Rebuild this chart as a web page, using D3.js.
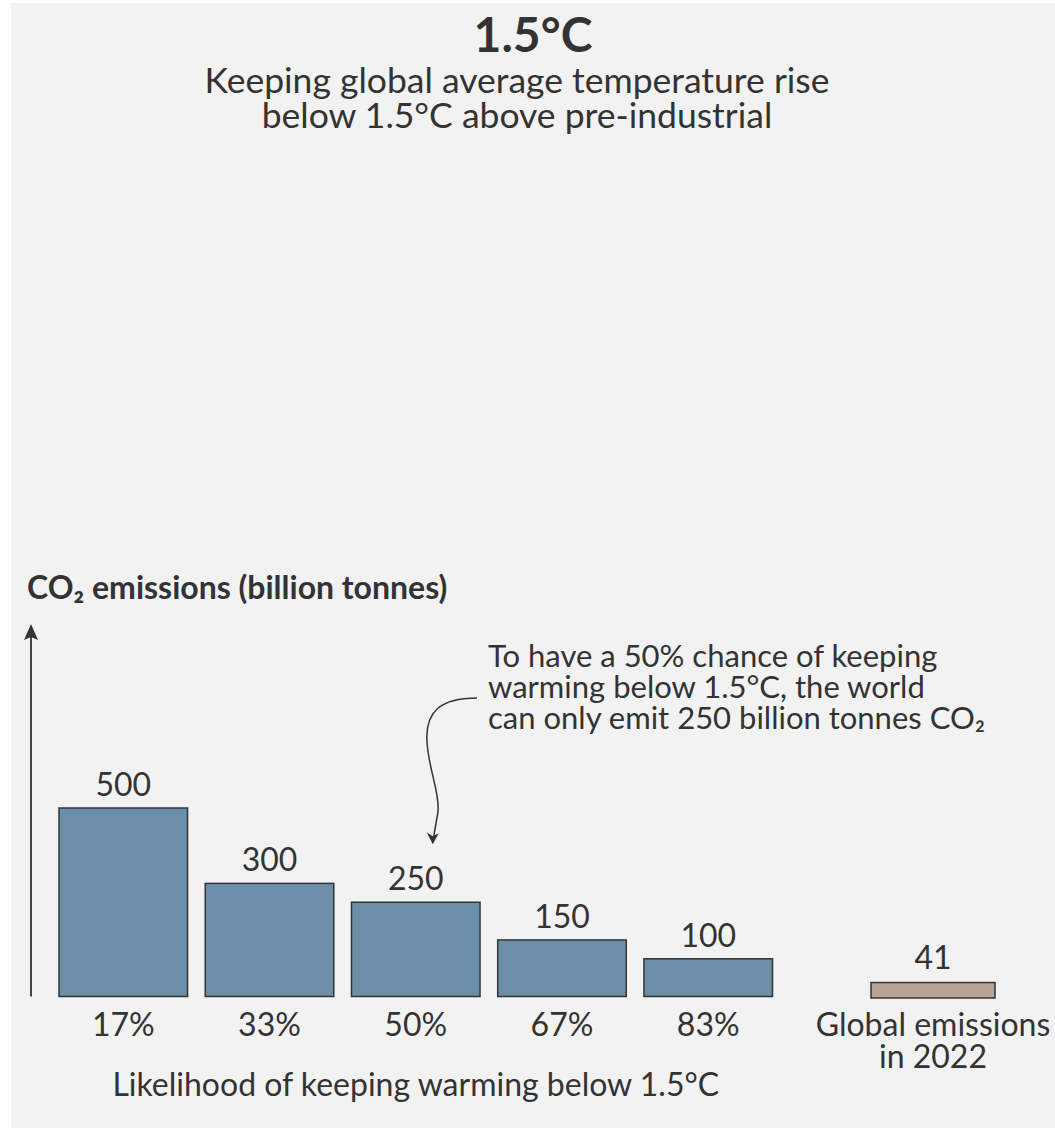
<!DOCTYPE html>
<html>
<head>
<meta charset="utf-8">
<script src="https://cdn.jsdelivr.net/npm/d3@7"></script>
<style>
  body { margin: 0; background: #fff; }
  text { font-family: Lato, 'Open Sans', sans-serif; fill: #333; }
</style>
</head>
<body>
<div id="chart"></div>
<script>
// data
let likelihood = ['17%', '33%', '50%', '67%', '83%']
let budget = [500, 300, 250, 150, 100]
let globalLabel = ['Global emissions', 'in 2022']
let globalValue = [41]

let width = 1055,
  height = 1131

let svg = d3.select('#chart')
  .append('svg')
  .attr('width', width)
  .attr('height', height)

// grey panel
svg.append('rect')
  .attr('x', 11)
  .attr('y', 3)
  .attr('width', width - 11)
  .attr('height', height - 6)
  .attr('fill', '#f2f2f2')

// titles
svg.append('text')
  .attr('x', 533)
  .attr('y', 52)
  .attr('text-anchor', 'middle')
  .attr('font-size', '48px')
  .attr('font-weight', 'bold')
  .text('1.5°C')

svg.append('text')
  .attr('x', 517)
  .attr('y', 93)
  .attr('text-anchor', 'middle')
  .attr('font-size', '35.5px')
  .text('Keeping global average temperature rise')

svg.append('text')
  .attr('x', 517)
  .attr('y', 128)
  .attr('text-anchor', 'middle')
  .attr('font-size', '35.5px')
  .text('below 1.5°C above pre-industrial')

// scales
let x = d3.scaleBand()
  .domain(likelihood)
  .range([59, 772.5])
  .paddingInner(0.121)
  .paddingOuter(0)

let xg = d3.scaleBand()
  .domain(['global'])
  .range([871, 995])

let y = d3.scaleLinear()
  .domain([0, 500])
  .range([996.5, 808])

let data = likelihood.map((k, i) => ({ key: k, value: budget[i] }))

// y axis arrow
svg.append('line')
  .attr('x1', 31)
  .attr('x2', 31)
  .attr('y1', y(0))
  .attr('y2', 627)
  .attr('stroke', '#444')
  .attr('stroke-width', 2)

svg.append('path')
  .attr('d', 'M24,640 L31,624 L38,640 L31,637 Z')
  .attr('fill', '#333')

svg.append('text')
  .attr('x', 27)
  .attr('y', 599)
  .attr('font-size', '32px')
  .attr('font-weight', 'bold')
  .text('CO₂ emissions (billion tonnes)')

// bars
svg.selectAll('.bar')
  .data(data)
  .enter().append('rect')
  .attr('class', 'bar')
  .attr('x', d => x(d.key))
  .attr('y', d => y(d.value))
  .attr('width', x.bandwidth())
  .attr('height', d => y(0) - y(d.value))
  .attr('fill', '#6b8fa8')
  .attr('stroke', '#333')
  .attr('stroke-width', 1.5)

svg.selectAll('.val')
  .data(data)
  .enter().append('text')
  .attr('class', 'val')
  .attr('x', d => x(d.key) + x.bandwidth() / 2)
  .attr('y', d => y(d.value) - 12)
  .attr('text-anchor', 'middle')
  .attr('font-size', '32px')
  .text(d => d.value)

svg.selectAll('.cat')
  .data(data)
  .enter().append('text')
  .attr('class', 'cat')
  .attr('x', d => x(d.key) + x.bandwidth() / 2)
  .attr('y', y(0) + 39)
  .attr('text-anchor', 'middle')
  .attr('font-size', '32px')
  .text(d => d.key)

svg.append('text')
  .attr('x', (x.range()[0] + x.range()[1]) / 2)
  .attr('y', 1096)
  .attr('text-anchor', 'middle')
  .attr('font-size', '32px')
  .text('Likelihood of keeping warming below 1.5°C')

// global emissions bar
svg.selectAll('.gbar')
  .data(globalValue)
  .enter().append('rect')
  .attr('class', 'gbar')
  .attr('x', xg('global'))
  .attr('y', d => y(d) + 1.5)
  .attr('width', xg.bandwidth())
  .attr('height', d => y(0) - y(d))
  .attr('fill', '#b5a497')
  .attr('stroke', '#333')
  .attr('stroke-width', 1.5)

svg.selectAll('.gval')
  .data(globalValue)
  .enter().append('text')
  .attr('class', 'gval')
  .attr('x', xg('global') + xg.bandwidth() / 2)
  .attr('y', d => y(d) - 12)
  .attr('text-anchor', 'middle')
  .attr('font-size', '32px')
  .text(d => d)

let glab = svg.append('text')
  .attr('text-anchor', 'middle')
  .attr('font-size', '32px')

glab.selectAll('tspan')
  .data(globalLabel)
  .enter().append('tspan')
  .attr('x', xg('global') + xg.bandwidth() / 2)
  .attr('y', (d, i) => y(0) + 39 + i * 32)
  .text(d => d)

// annotation
let note = ['To have a 50% chance of keeping',
  'warming below 1.5°C, the world',
  'can only emit 250 billion tonnes CO₂']

let noteText = svg.append('text')
  .attr('font-size', '31px')

noteText.selectAll('tspan')
  .data(note)
  .enter().append('tspan')
  .attr('x', 488)
  .attr('y', (d, i) => 667 + i * 31)
  .text(d => d)

let tipX = x('50%') + x.bandwidth() / 2 + 17,
  tipY = y(250) - 58

let p = d3.path()
p.moveTo(477, 698)
p.bezierCurveTo(440, 698, 425, 712, 427, 742)
p.bezierCurveTo(429, 772, 440, 792, 438, 812)
p.lineTo(tipX + 1, tipY - 8)

svg.append('path')
  .attr('d', p.toString())
  .attr('fill', 'none')
  .attr('stroke', '#333')
  .attr('stroke-width', 1.5)

svg.append('path')
  .attr('d', `M${tipX - 6},${tipY - 12} L${tipX},${tipY} L${tipX + 6},${tipY - 11} L${tipX},${tipY - 8} Z`)
  .attr('fill', '#333')
</script>
</body>
</html>
